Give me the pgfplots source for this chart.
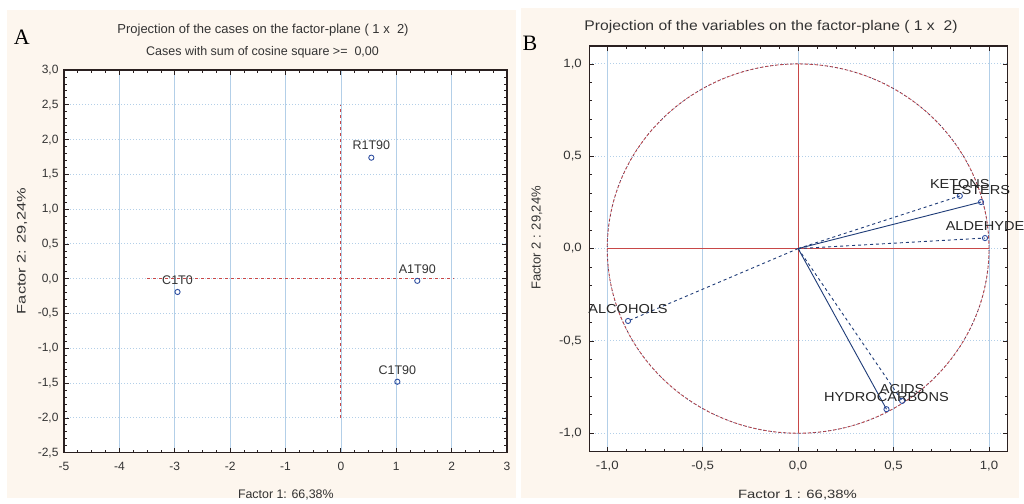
\documentclass[border=0pt]{standalone}
\usepackage{pgfplots}
\pgfplotsset{compat=1.18}
\usepackage{pgfplotstable}
\usepackage{fontspec}
\setmainfont{Liberation Sans}
\newfontfamily\seriffont{Liberation Serif}
\newfontfamily\stretchA[FakeStretch=1.12]{Liberation Sans}
\newfontfamily\stretchT[FakeStretch=1.10]{Liberation Sans}
\newfontfamily\stretchB[FakeStretch=1.24]{Liberation Sans}
\newfontfamily\stretchC[FakeStretch=1.32]{Liberation Sans}
\definecolor{cream}{HTML}{FDF6EE}
\definecolor{gridblue}{HTML}{B3CFE8}
\definecolor{navy}{HTML}{1F3C78}
\definecolor{markblue}{HTML}{2F4FA0}
\definecolor{refred}{HTML}{C84848}
\definecolor{txt}{HTML}{333333}
\definecolor{frame}{HTML}{2A2020}

\pgfplotstableread{
x y label
0.55 1.74 R1T90
1.38 -0.03 A1T90
-2.95 -0.19 C1T0
1.02 -1.48 C1T90
}\cases

\pgfplotstableread{
x y label
0.847 0.285 KETONS
0.958 0.252 ESTERS
0.979 0.057 ALDEHYDE
-0.891 -0.392 ALCOHOLS
0.545 -0.825 ACIDS
0.463 -0.870 HYDROCARBONS
}\vars

\pgfplotsset{
  common/.style={
    scale only axis,
    axis background/.style={fill=white},
    axis line style={frame, line width=1.3pt},
    tick align=inside,
    major tick length=5pt, minor tick length=3pt,
    tick style={frame, line width=0.8pt},
    grid=major,
    major x grid style={gridblue, line width=0.6pt},
    major y grid style={gridblue, line width=1pt, dotted},
    /pgf/number format/assume math mode=true,
    x tick label style={yshift=-6pt},
    clip=false,
  },
  comma/.style={/pgf/number format/fixed, /pgf/number format/fixed zerofill,
    /pgf/number format/precision=1, /pgf/number format/use comma},
}

\begin{document}
\begin{tikzpicture}[x=1pt,y=1pt]
\path[use as bounding box] (0,0) rectangle (1024,-503);
\fill[white] (0,0) rectangle (1024,-503);
\fill[cream] (7,-10) rectangle (516,-498);
\fill[cream] (521,-8) rectangle (1019,-498);

% ---------- Panel A ----------
\begin{axis}[common,
  at={(64pt,-452.7pt)}, anchor=south west,
  width=443pt, height=382.7pt,
  xmin=-5, xmax=3, ymin=-2.5, ymax=3,
  xtick={-5,-4,-3,-2,-1,0,1,2,3},
  ytick={-2.5,-2,-1.5,-1,-0.5,0,0.5,1,1.5,2,2.5,3},
  minor x tick num=3, minor y tick num=4,
  tick label style={font=\fontsize{12}{14}\selectfont, text=txt},
  y tick label style={comma, xshift=-2pt},
]
\addplot[refred, dashed, line width=0.8pt] coordinates {(-3.5,0) (2.05,0)};
\addplot[refred, dashed, line width=0.8pt] coordinates {(0,-2) (0,2.5)};
\addplot[only marks, mark=o, mark size=2.6pt, markblue, mark options={line width=0.9pt},
  nodes near coords, point meta=explicit symbolic,
  every node near coord/.append style={anchor=center, yshift=12pt,
    font=\fontsize{12.5}{14}\selectfont, text=txt}]
  table[meta=label] {\cases};
\end{axis}

% ---------- Panel B ----------
\begin{axis}[common,
  at={(589.3pt,-451.7pt)}, anchor=south west,
  width=418.4pt, height=405.7pt,
  xmin=-1.094, xmax=1.098, ymin=-1.1, ymax=1.097,
  xtick={-1,-0.5,0,0.5,1}, ytick={-1,-0.5,0,0.5,1},
  minor x tick num=4, minor y tick num=4,
  tick label style={font=\stretchT\fontsize{12}{14}\selectfont, text=txt},
  x tick label style={comma},
  y tick label style={comma, xshift=-4pt},
]
\draw[refred, densely dashed, line width=0.9pt] (axis cs:0,0) ellipse [x radius=1, y radius=1];
\draw[navy, dotted, line width=0.6pt] (axis cs:0,0) ellipse [x radius=1, y radius=1];
\addplot[refred, line width=0.9pt] coordinates {(-1,0) (1,0)};
\addplot[refred, line width=0.9pt] coordinates {(0,-1) (0,1)};
\addplot[navy, dashed, line width=0.9pt] coordinates {(0,0) (0.847,0.285)};
\addplot[navy, line width=0.9pt] coordinates {(0,0) (0.958,0.252)};
\addplot[navy, dashed, line width=0.9pt] coordinates {(0,0) (0.979,0.057)};
\addplot[navy, dashed, line width=0.9pt] coordinates {(0,0) (-0.891,-0.392)};
\addplot[navy, dashed, line width=0.9pt] coordinates {(0,0) (0.545,-0.825)};
\addplot[navy, line width=0.9pt] coordinates {(0,0) (0.463,-0.870)};
\addplot[only marks, mark=o, mark size=2.6pt, markblue, mark options={line width=0.9pt},
  nodes near coords, point meta=explicit symbolic,
  every node near coord/.append style={anchor=center, yshift=12pt,
    font=\stretchA\fontsize{13}{15}\selectfont, text=black!85}]
  table[meta=label] {\vars};
\end{axis}

% ---------- Texts ----------
\begin{scope}[every node/.style={text=txt, inner sep=0pt}]
\node[font=\fontsize{13}{15}\selectfont] at (263,-30) {Projection of the cases on the factor-plane (~1 x ~2)};
\node[font=\fontsize{12.5}{14}\selectfont] at (262.5,-52) {Cases with sum of cosine square >= ~0,00};
\node[font=\stretchA\fontsize{14}{16}\selectfont] at (771,-27) {Projection of the variables on the factor-plane (~1 x ~2)};
\node[font=\fontsize{12.4}{14}\selectfont] at (285.8,-495) {Factor 1: 66,38\%};
\node[font=\stretchC\fontsize{12.4}{14}\selectfont, rotate=90] at (22,-251) {Factor 2: 29,24\%};
\node[font=\stretchB\fontsize{12}{14}\selectfont] at (797.5,-495) {Factor 1 : 66,38\%};
\node[font=\fontsize{13}{15}\selectfont, rotate=90] at (537,-238) {Factor 2 : 29,24\%};
\node[font=\seriffont\fontsize{22}{22}\selectfont, text=black] at (21.7,-37) {A};
\node[font=\seriffont\fontsize{22}{22}\selectfont, text=black] at (530,-43) {B};
\end{scope}
\end{tikzpicture}
\end{document}
